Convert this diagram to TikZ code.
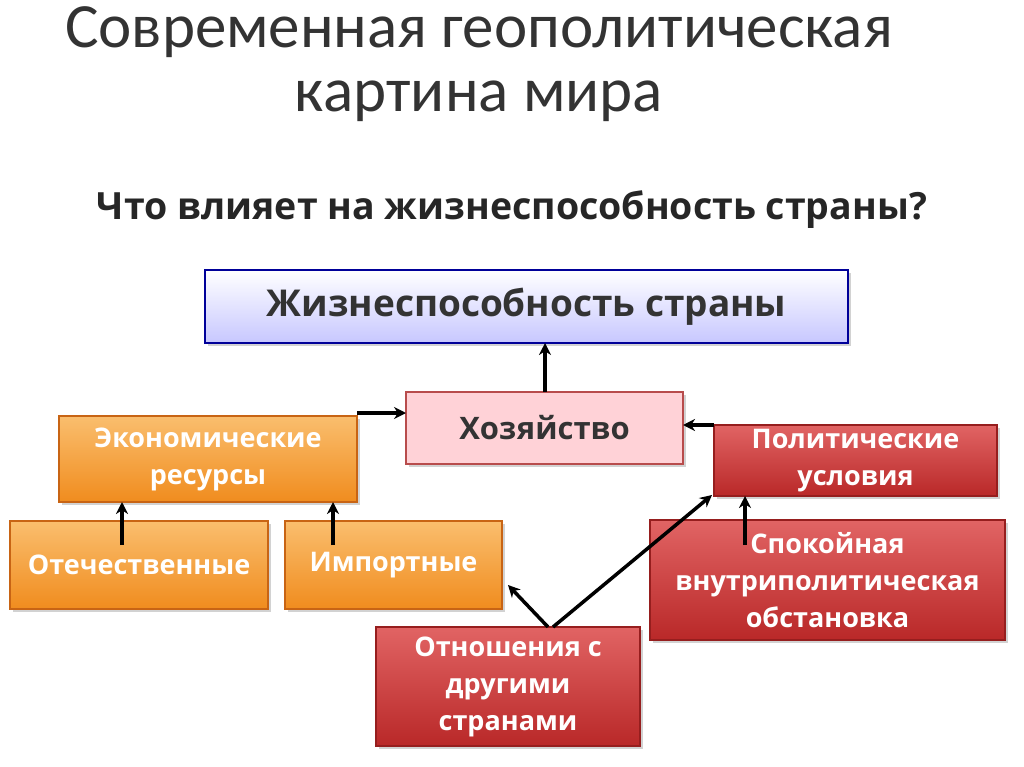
\documentclass[tikz,border=0pt]{standalone}
\usepackage{fontspec}
\setmainfont{Carlito}
\newfontfamily\bodyf{Open Sans}
\usetikzlibrary{arrows.meta,shadows}
\definecolor{orF}{RGB}{240,140,30}
\definecolor{orT}{RGB}{250,190,110}
\definecolor{orD}{RGB}{200,100,20}
\definecolor{rdF}{RGB}{185,40,40}
\definecolor{rdT}{RGB}{225,100,100}
\definecolor{rdD}{RGB}{150,30,30}
\begin{document}
\begin{tikzpicture}[x=1pt,y=-1pt,
  bx/.style={draw,line width=1.2pt,inner sep=0pt,align=center,font=\bodyf\bfseries\fontsize{27}{37}\selectfont,drop shadow={opacity=0.35,shadow xshift=3pt,shadow yshift=-3pt}},
  orb/.style={bx,draw=orD,top color=orT,bottom color=orF,text=white},
  rdb/.style={bx,draw=rdD,top color=rdT,bottom color=rdF,text=white},
  ar/.style={-{Stealth[length=12pt,width=12pt]},line width=3.5pt}]
\useasboundingbox[fill=white] (0,0) rectangle (1024,767);
\node[font=\fontsize{63}{70}\selectfont,color=black!80] (t1) at (479,32) {Современная геополитическая};
\node[font=\fontsize{63}{70}\selectfont,color=black!80] (t2) at (479,101) {картина мира};
\node[font=\bodyf\bfseries\fontsize{37.5}{42}\selectfont,color=black!85] (q) at (512,210) {Что влияет на жизнеспособность страны?};
\node[bx,draw=blue!60!black,top color=white,bottom color=blue!22,text=black!80,minimum width=643,minimum height=73,font=\bodyf\bfseries\fontsize{37}{42}\selectfont] (top) at (526.5,306.5) {Жизнеспособность страны};
\node[bx,draw=red!60!black!70,fill={rgb,255:red,255;green,210;blue,215},text=black!80,minimum width=277,minimum height=72,font=\bodyf\bfseries\fontsize{31}{37}\selectfont] (h) at (544.5,428) {Хозяйство};
\node[orb,minimum width=298,minimum height=86] (e) at (208,459) {Экономические\\ресурсы};
\node[rdb,minimum width=283,minimum height=71] (p) at (855.5,460.5) {Политические\\условия};
\node[orb,minimum width=258,minimum height=88] (o) at (139,565) {Отечественные};
\node[orb,minimum width=217,minimum height=88] (i) at (393.5,565) {Импортные};
\node[rdb,minimum width=355,minimum height=120] (s) at (827.5,580) {Спокойная\\внутриполитическая\\обстановка};
\node[rdb,minimum width=264,minimum height=119] (r) at (508,686.5) {Отношения с\\другими\\странами};
\coordinate (a1) at (545,392); \coordinate (a2) at (545,343);
\draw[ar] (a1) -- (a2);
\coordinate (b1) at (357,413); \coordinate (b2) at (406,413);
\draw[ar] (b1) -- (b2);
\coordinate (c1) at (714,425); \coordinate (c2) at (683,425);
\draw[ar] (c1) -- (c2);
\coordinate (d1) at (122,545); \coordinate (d2) at (122,502);
\draw[ar] (d1) -- (d2);
\coordinate (e1) at (333,545); \coordinate (e2) at (333,502);
\draw[ar] (e1) -- (e2);
\coordinate (f1) at (745,545); \coordinate (f2) at (745,496);
\draw[ar] (f1) -- (f2);
\coordinate (g1) at (548,627); \coordinate (g2) at (508,585);
\draw[ar] (g1) -- (g2);
\coordinate (k1) at (553,627); \coordinate (k2) at (712,495);
\draw[ar] (k1) -- (k2);
\end{tikzpicture}
\end{document}
